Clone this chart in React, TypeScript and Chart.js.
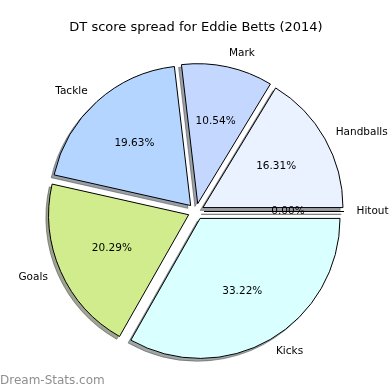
import React, { useEffect, useRef } from "react";
import { Chart, registerables } from "chart.js";

Chart.register(...registerables);

const TITLE = "DT score spread for Eddie Betts (2014)";
const WATERMARK = "Dream-Stats.com";

// Counter-clockwise order starting at 3 o'clock (as in the reference)
const categories = ["Hitout", "Handballs", "Mark", "Tackle", "Goals", "Kicks"];
const shares = [0.0, 16.31, 10.54, 19.63, 20.29, 33.22];
const sliceColors = ["#d9d9d9", "#eaf1ff", "#c4d8ff", "#b3d5ff", "#d0ec8c", "#d9ffff"];

// Chart.js draws clockwise, so reverse to get the same layout
const chartLabels = [...categories].reverse();
const chartValues = [...shares].reverse();
const chartColors = [...sliceColors].reverse();

const EXPLODE = 8;
const SHADOW = 2.8;
const RADIUS = 140;
const FONT = "'DejaVu Sans', 'Liberation Sans', sans-serif";

function hexToRgb(h: string): [number, number, number] {
  const s = h.replace("#", "");
  return [parseInt(s.slice(0, 2), 16), parseInt(s.slice(2, 4), 16), parseInt(s.slice(4, 6), 16)];
}

const piePlugin = {
  id: "mplPie",
  beforeDatasetsDraw(chart: any) {
    const ctx = chart.ctx;
    const meta = chart.getDatasetMeta(0);
    meta.data.forEach((el: any, i: number) => {
      const { x, y, startAngle, endAngle, outerRadius } = el.getProps(
        ["x", "y", "startAngle", "endAngle", "outerRadius"],
        true
      );
      const mid = (startAngle + endAngle) / 2;
      const [r, g, b] = hexToRgb(chartColors[i]);
      const c = `rgba(${Math.round(0.3 * r)},${Math.round(0.3 * g)},${Math.round(0.3 * b)},0.5)`;
      ctx.save();
      ctx.translate(Math.cos(mid) * EXPLODE - SHADOW, Math.sin(mid) * EXPLODE + SHADOW);
      ctx.beginPath();
      ctx.moveTo(x, y);
      ctx.arc(x, y, outerRadius, startAngle, endAngle);
      ctx.closePath();
      ctx.fillStyle = c;
      ctx.fill();
      ctx.strokeStyle = c;
      ctx.lineWidth = 1;
      ctx.stroke();
      ctx.restore();
    });
  },
  beforeDatasetDraw(chart: any, args: any) {
    const ctx = chart.ctx;
    args.meta.data.forEach((el: any) => {
      const { x, y, startAngle, endAngle, outerRadius } = el.getProps(
        ["x", "y", "startAngle", "endAngle", "outerRadius"],
        true
      );
      const mid = (startAngle + endAngle) / 2;
      ctx.save();
      ctx.translate(Math.cos(mid) * EXPLODE, Math.sin(mid) * EXPLODE);
      if (endAngle - startAngle > 1e-6) {
        el.draw(ctx);
      } else {
        ctx.beginPath();
        ctx.moveTo(x, y);
        ctx.lineTo(x + Math.cos(startAngle) * outerRadius, y + Math.sin(startAngle) * outerRadius);
        ctx.strokeStyle = "#000";
        ctx.lineWidth = 1;
        ctx.stroke();
      }
      ctx.restore();
    });
    return false;
  },
  afterDatasetsDraw(chart: any) {
    const ctx = chart.ctx;
    const meta = chart.getDatasetMeta(0);
    const total = chartValues.reduce((a, b) => a + b, 0);
    ctx.save();
    ctx.fillStyle = "#000";
    ctx.font = `10.5px ${FONT}`;
    ctx.textBaseline = "middle";
    meta.data.forEach((el: any, i: number) => {
      const { x, y, startAngle, endAngle, outerRadius } = el.getProps(
        ["x", "y", "startAngle", "endAngle", "outerRadius"],
        true
      );
      const mid = (startAngle + endAngle) / 2;
      const cx = x + Math.cos(mid) * EXPLODE;
      const cy = y + Math.sin(mid) * EXPLODE;
      const lx = cx + 1.1 * outerRadius * Math.cos(mid);
      const ly = cy + 1.1 * outerRadius * Math.sin(mid);
      ctx.textAlign = lx - x > 0 ? "left" : "right";
      ctx.fillText(chartLabels[i], lx - (lx - x > 0 ? 1.5 : 0), ly);
      const px = cx + 0.6 * outerRadius * Math.cos(mid);
      const py = cy + 0.6 * outerRadius * Math.sin(mid);
      ctx.textAlign = "center";
      ctx.fillText(((chartValues[i] / total) * 100).toFixed(2) + "%", px, py);
    });
    ctx.fillStyle = "#8f8f8f";
    ctx.font = `12px ${FONT}`;
    ctx.textAlign = "left";
    ctx.fillText(WATERMARK, 0, 380.5);
    ctx.restore();
  },
};

export default function App() {
  const ref = useRef<HTMLCanvasElement | null>(null);
  useEffect(() => {
    if (!ref.current) return;
    const chart = new Chart(ref.current, {
      type: "pie",
      data: {
        labels: chartLabels,
        datasets: [
          {
            data: chartValues,
            backgroundColor: chartColors,
            borderColor: "#000",
            borderWidth: 1,
            offset: 0,
            hoverOffset: 0,
          },
        ],
      },
      options: {
        responsive: false,
        animation: false,
        events: [],
        rotation: 90,
        radius: RADIUS,
        layout: { padding: { left: 2, right: 0, top: 0, bottom: 7.6 } },
        plugins: {
          legend: { display: false },
          tooltip: { enabled: false },
          title: {
            display: true,
            text: TITLE,
            color: "#000",
            font: { family: FONT, size: 13, weight: "normal" },
            padding: { top: 20, bottom: 5 },
          },
        },
      } as any,
      plugins: [piePlugin as any],
    });
    return () => chart.destroy();
  }, []);
  return (
    <div style={{ position: "absolute", left: 0, top: 0, width: 390, height: 390, background: "#fff" }}>
      <canvas ref={ref} width={390} height={390} style={{ width: 390, height: 390, display: "block" }} />
    </div>
  );
}
